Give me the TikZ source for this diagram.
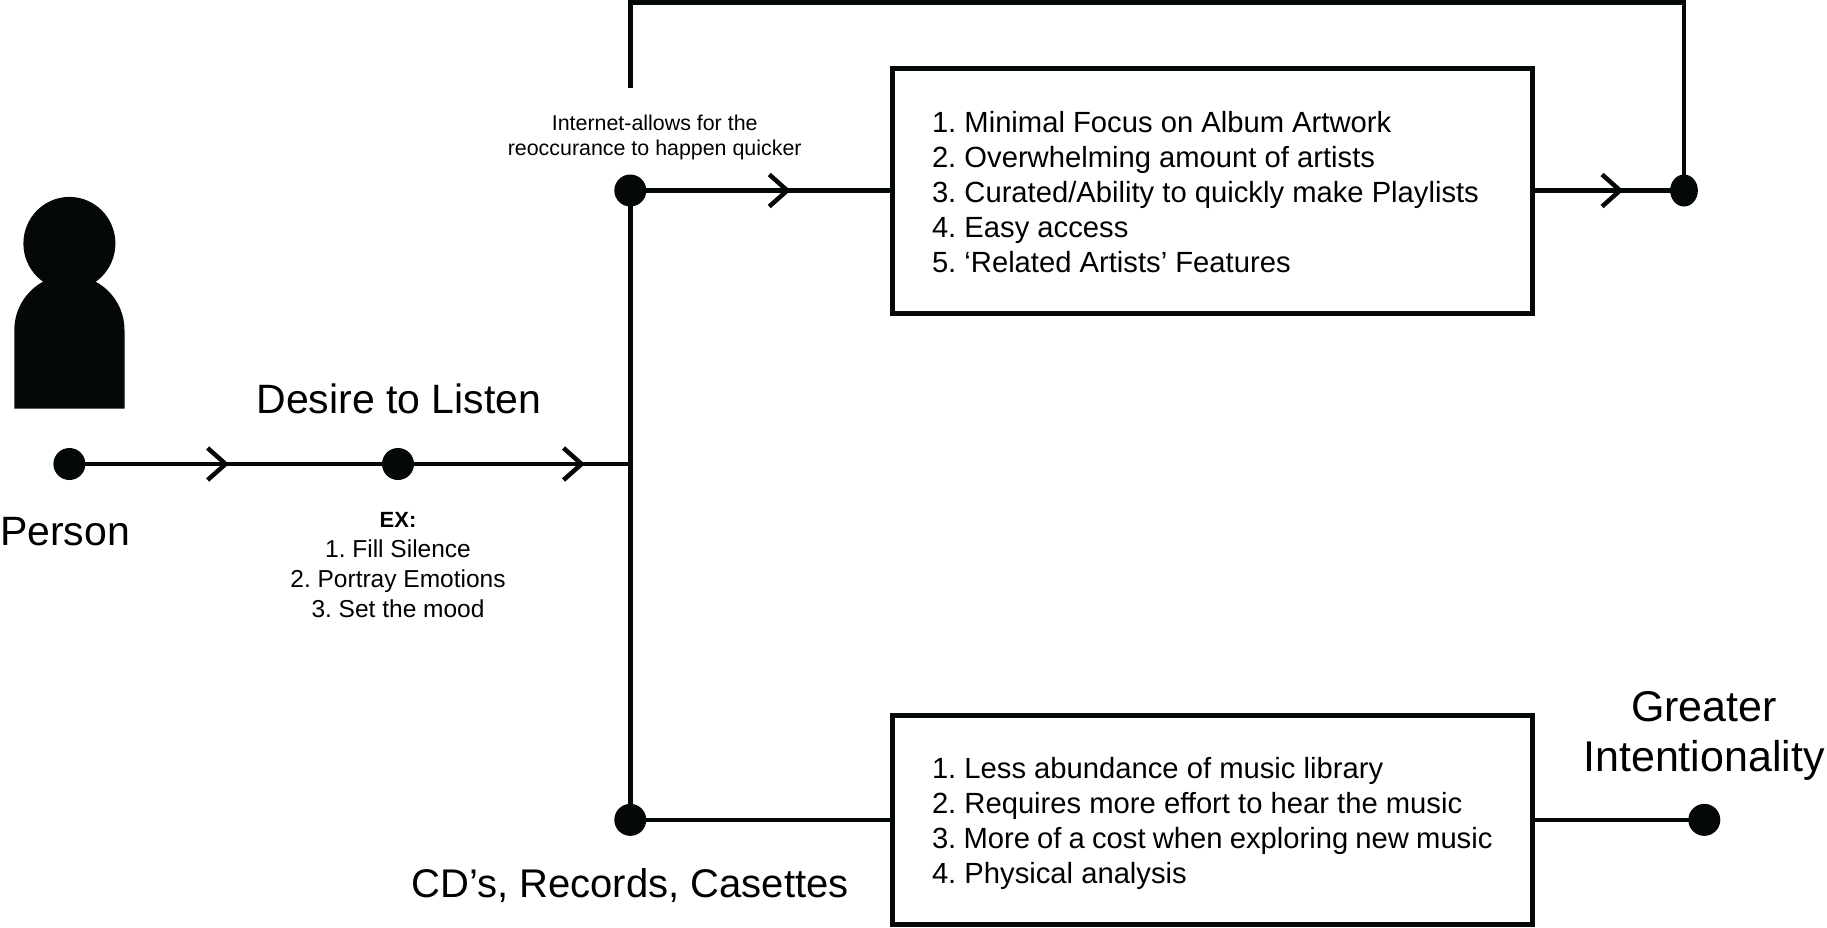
\documentclass[tikz,border=0pt]{standalone}
\usepackage{fontspec}
\setmainfont{Liberation Sans}
\usetikzlibrary{shapes.geometric,decorations.markings}
\definecolor{ink}{HTML}{050808}
\tikzset{
  x=1pt,y=-1pt,
  line/.style={draw=ink,line width=4.5pt},
  dot/.style={circle,fill=ink,draw=none,minimum size=32pt,inner sep=0pt,outer sep=0pt},
  listbox/.style={draw=ink,line width=5pt,fill=white,minimum width=639.5pt,inner xsep=39.5pt,inner ysep=0pt,outer sep=0pt,text width=560.5pt,align=flush left,font=\fontsize{29.2}{35}\selectfont\frenchspacing},
  big/.style={font=\fontsize{#1}{50}\selectfont,inner sep=0pt,anchor=base},
  midchev/.style={postaction={decorate,decoration={markings,mark=at position #1 with {\draw[draw=ink,line width=4.5pt] (-21pt,-16pt)--(-3pt,0pt)--(-21pt,16pt);}}}}
}
\begin{document}
\begin{tikzpicture}
\useasboundingbox (0,0) rectangle (1827,927);
% person figure
\fill[ink] (14.3,408.7) -- (14.3,330) arc[start angle=180,end angle=0,x radius=55.1pt,y radius=55pt] -- (124.5,408.7) -- cycle;
\fill[ink] (69.4,243.5) ellipse[x radius=46pt,y radius=46.6pt];
% boxes
\node[listbox,minimum height=245pt] (modern) at (1212.25,190.5) {\rule{0pt}{24.3pt}1. Minimal Focus on Album Artwork\\2. Overwhelming amount of artists\\3. Curated/Ability to quickly make Playlists\\4. Easy access\\5. ‘Related Artists’ Features};
\node[listbox,minimum height=208.3pt] (physical) at (1212.25,819.85) {\rule{0pt}{29.3pt}1. Less abundance of music library\\2. Requires more effort to hear the music\\3. More of a cost when exploring new music\\4. Physical analysis};
% dots
\node[dot] (person) at (69.4,464) {};
\node[dot] (desire) at (398,464) {};
\node[dot] (internet) at (630.3,190.5) {};
\node[dot] (cds) at (630.3,819.85) {};
\node[ellipse,fill=ink,minimum width=27.7pt,minimum height=32pt,inner sep=0pt,outer sep=0pt] (loop) at (1684,190.5) {};
\node[dot] (greater) at (1704.3,819.85) {};
\coordinate (junction) at (630.3,464);
\coordinate (stub) at (630.3,88);
\coordinate (topleft) at (630.3,2.7);
\coordinate (topright) at (1684,2.7);
% connectors
\draw[line,midchev=0.4845] (person.center) -- (desire.center);
\draw[line,midchev=0.803] (desire.center) -- (junction);
\draw[line] (internet.center) -- (cds.center);
\draw[line,midchev=0.61] (internet.center) -- (modern.west);
\draw[line,midchev=0.599] (modern.east) -- (loop.center);
\draw[line] (stub) -- (topleft) -- (topright) -- (loop.center);
\draw[line] (cds.center) -- (physical.west);
\draw[line] (physical.east) -- (greater.center);
% labels
\node[big=41] (lperson) at (65,545) {Person};
\node[big=41] (ldesire) at (399,413) {Desire to Listen};
\node[big=40] (lcds) at (630,897) {CD’s, Records, Casettes};
\node[big=43,align=center] (lgreater) at (1704,771) {Greater\\Intentionality};
\node[align=center,inner sep=0pt,anchor=base,font=\fontsize{24.5}{30}\selectfont\frenchspacing] (lex) at (398,617) {{\fontsize{22}{30}\selectfont\textbf{EX:}}\\1. Fill Silence\\2. Portray Emotions\\3. Set the mood};
\node[align=center,inner sep=0pt,anchor=base,font=\fontsize{21.4}{25}\selectfont] (lnet) at (654.7,155) {Internet-allows for the\\reoccurance to happen quicker};
\end{tikzpicture}
\end{document}
